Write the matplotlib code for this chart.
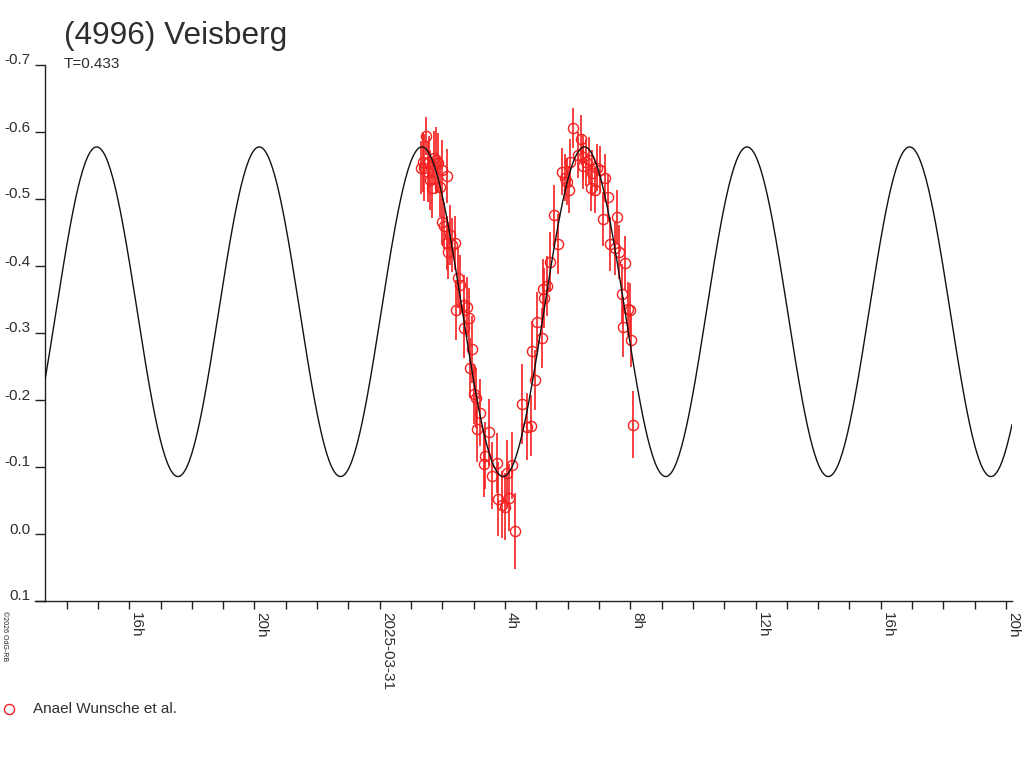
import matplotlib
matplotlib.use('Agg')
import matplotlib.pyplot as plt
import numpy as np

plt.rcParams['font.family'] = ['Liberation Sans', 'DejaVu Sans']

# ---------------- data ----------------
# observation times: hours since 2025-03-31 00:00 UT
obs_hours = [1.331, 1.395, 1.427, 1.491, 1.554, 1.586, 1.618, 1.682, 1.746, 1.810,
             1.874, 1.937, 2.001, 2.161, 2.001, 2.065, 2.161, 2.257, 2.320, 2.416,
             2.193, 2.512, 2.576, 2.448, 2.703, 2.799, 2.863, 2.703, 2.959, 2.895,
             3.023, 3.087, 3.214, 3.118, 3.501, 3.374, 3.342, 3.757, 3.597, 4.076,
             4.236, 3.789, 3.916, 4.012, 4.140, 4.331, 4.555, 4.714, 4.842, 4.970,
             4.874, 5.193, 5.034, 5.257, 5.225, 5.353, 5.448, 5.704, 5.576, 6.055,
             5.991, 5.832, 5.928, 6.087, 6.183, 6.438, 6.342, 6.501, 6.597, 6.501,
             6.693, 6.789, 6.949, 7.044, 7.204, 6.757, 6.885, 7.300, 7.140, 7.587,
             7.364, 7.523, 7.651, 7.842, 7.747, 8.002, 7.938, 7.779, 8.034, 8.098]
obs_mag = [-0.546, -0.554, -0.546, -0.593, -0.540, -0.554, -0.528, -0.516, -0.560, -0.557,
           -0.553, -0.517, -0.543, -0.534, -0.465, -0.459, -0.434, -0.446, -0.431, -0.434,
           -0.420, -0.381, -0.371, -0.334, -0.341, -0.338, -0.322, -0.307, -0.275, -0.247,
           -0.208, -0.202, -0.180, -0.156, -0.151, -0.116, -0.104, -0.105, -0.086, -0.090,
           -0.102, -0.052, -0.043, -0.040, -0.053, -0.004, -0.193, -0.159, -0.161, -0.229,
           -0.272, -0.292, -0.316, -0.352, -0.365, -0.369, -0.405, -0.432, -0.475, -0.513,
           -0.525, -0.540, -0.531, -0.554, -0.605, -0.589, -0.565, -0.562, -0.554, -0.549,
           -0.557, -0.538, -0.546, -0.543, -0.531, -0.516, -0.513, -0.502, -0.469, -0.472,
           -0.432, -0.426, -0.420, -0.404, -0.357, -0.334, -0.335, -0.308, -0.289, -0.162]
obs_err = [0.040, 0.045, 0.050, 0.028, 0.045, 0.040, 0.045, 0.045, 0.040, 0.050,
           0.045, 0.045, 0.045, 0.040, 0.035, 0.035, 0.040, 0.045, 0.040, 0.040,
           0.040, 0.045, 0.045, 0.045, 0.045, 0.045, 0.045, 0.045, 0.050, 0.045,
           0.045, 0.045, 0.050, 0.050, 0.050, 0.050, 0.050, 0.045, 0.050, 0.050,
           0.050, 0.055, 0.050, 0.050, 0.050, 0.057, 0.060, 0.050, 0.045, 0.045,
           0.045, 0.045, 0.045, 0.045, 0.045, 0.045, 0.045, 0.045, 0.045, 0.035,
           0.035, 0.035, 0.035, 0.035, 0.030, 0.035, 0.035, 0.035, 0.035, 0.035,
           0.035, 0.035, 0.035, 0.035, 0.035, 0.035, 0.035, 0.035, 0.040, 0.040,
           0.040, 0.040, 0.040, 0.040, 0.045, 0.040, 0.040, 0.045, 0.040, 0.050]

# fitted lightcurve model parameters
period_h = 5.192
epoch_max_h = -9.04      # time of brightness maximum (hours rel. 2025-03-31 0h)
mean_mag = -0.331
amplitude = 0.246

# axis ranges and ticks
x_range = (-10.69, 20.19)
major_ticks = [-8, -4, 0, 4, 8, 12, 16, 20]
major_labels = ['16h', '20h', '2025-03-31', '4h', '8h', '12h', '16h', '20h']
minor_ticks = list(range(-10, 21))
y_ticks = [-0.7, -0.6, -0.5, -0.4, -0.3, -0.2, -0.1, 0.0, 0.1]
y_labels = ['-0.7', '-0.6', '-0.5', '-0.4', '-0.3', '-0.2', '-0.1', '0.0', '0.1']

title = '(4996) Veisberg'
subtitle = 'T=0.433'
observer = 'Anael Wunsche et al.'
copyright_txt = '\u00a92026 OdG-RB'

# ---------------- figure ----------------
W, H = 1024, 768
fig = plt.figure(figsize=(W / 100, H / 100), dpi=100)
ax = fig.add_axes([45 / W, 1 - 600.5 / H, (1012 - 45) / W, (600.5 - 64.5) / H])

txt_col = '#2e2e2e'
red = '#f52020'

t_model = np.linspace(x_range[0], x_range[1], 800)
m_model = mean_mag - amplitude * np.cos(2 * np.pi * (t_model - epoch_max_h) / period_h)
ax.plot(t_model, m_model, color='#111111', lw=1.0, zorder=3)

ax.errorbar(obs_hours, obs_mag, yerr=obs_err, fmt='o', mfc='none', mec=red,
            ms=7.3, mew=1.0, ecolor=red, elinewidth=1.2, capsize=0, zorder=2)

ax.set_xlim(*x_range)
ax.set_ylim(0.1, -0.7)

ax.set_xticks(major_ticks)
ax.set_xticklabels(major_labels, rotation=-90, ha='left', va='top',
                   fontsize=11, color=txt_col)
ax.set_xticks(minor_ticks, minor=True)
ax.tick_params(axis='x', which='both', direction='out', length=5.8, width=1,
               color='#222222', pad=2.5)

ax.set_yticks(y_ticks)
ax.set_yticklabels(y_labels, fontsize=11, color=txt_col)
for lbl in ax.get_yticklabels():
    lbl.set_va('baseline')
ax.tick_params(axis='y', direction='out', length=7.2, width=1,
               color='#222222', pad=3.5)

for s in ['top', 'right']:
    ax.spines[s].set_visible(False)
for s in ['left', 'bottom']:
    ax.spines[s].set_color('#222222')
    ax.spines[s].set_linewidth(1)

# extend the x-axis line a bit to the left of the y axis
ax.plot([-10 / 967, 0], [0, 0], transform=ax.transAxes, clip_on=False,
        color='#222222', lw=1)

fig.text(64 / W, 1 - 44 / H, title, fontsize=22.8, color=txt_col, va='baseline', ha='left')
fig.text(64 / W, 1 - 67.5 / H, subtitle, fontsize=11, color=txt_col, va='baseline', ha='left')
fig.text(1 / W, 1 - 611 / H, copyright_txt, fontsize=5, color='#222222',
         rotation=-90, ha='left', va='top')

# legend
ax.plot([9 / W], [1 - 709 / H], 'o', mfc='none', mec=red, ms=7.3, mew=1.0,
        transform=fig.transFigure, clip_on=False)
fig.text(33 / W, 1 - 709 / H, observer, fontsize=11, color=txt_col,
         va='center', ha='left')

fig.savefig('out.png', dpi=100, facecolor='white')
